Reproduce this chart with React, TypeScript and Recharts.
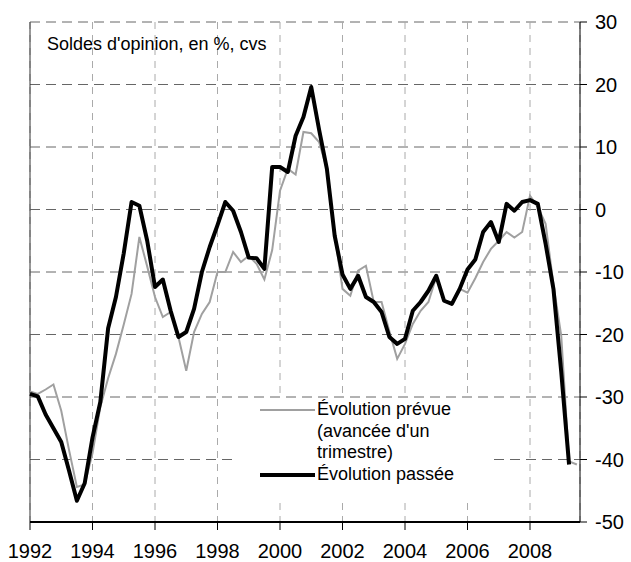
import { LineChart, Line, XAxis, YAxis, CartesianGrid, ReferenceLine } from 'recharts';

// quarterly observations, 1992 Q1 .. 2009 Q3
const quarters: number[] = Array.from({ length: 71 }, (_, i) => 1992 + i / 4);

const evolutionPrevue: number[] = [
  -29.1, -29.5, -28.8, -28.0, -32.2, -38.5, -44.4, -44.0,
  -39.0, -31.6, -27.0, -23.1, -18.4, -13.5, -4.4, -9.1,
  -14.0, -17.2, -16.4, -20.4, -25.8, -19.6, -16.7, -14.8,
  -10.0, -10.0, -6.8, -8.4, -7.4, -8.7, -11.2, -6.5,
  3.0, 6.5, 5.6, 12.4, 12.2, 10.8, 6.5, -4.0,
  -12.7, -13.8, -9.8, -9.0, -14.8, -14.8, -19.5, -23.9,
  -21.5, -18.3, -16.2, -14.8, -10.8, -14.6, -15.0, -12.7,
  -13.3, -11.0, -8.4, -6.3, -5.0, -3.6, -4.5, -3.6,
  2.2, 0.4, -2.3, -12.0, -20.2, -40.3, -40.8,
];

const evolutionPassee: number[] = [
  -29.5, -29.9, -32.8, -35.0, -37.2, -41.8, -46.6, -43.8,
  -36.5, -30.8, -19.0, -14.0, -7.0, 1.2, 0.6, -5.0,
  -12.4, -11.2, -16.2, -20.4, -19.6, -15.9, -10.0, -6.0,
  -2.5, 1.2, -0.2, -3.6, -7.7, -7.8, -9.5, 6.8,
  6.8, 6.0, 11.8, 14.8, 19.6, 12.8, 6.5, -4.2,
  -10.4, -12.7, -10.6, -14.0, -14.8, -16.4, -20.4, -21.5,
  -20.7, -16.2, -14.8, -13.0, -10.6, -14.6, -15.1, -12.7,
  -9.6, -8.0, -3.6, -2.0, -5.2, 0.9, -0.2, 1.2,
  1.5, 0.9, -5.5, -12.7, -26.0, -40.8,
];

const yearTicks = [1992, 1994, 1996, 1998, 2000, 2002, 2004, 2006, 2008];
const valueTicks = [-50, -40, -30, -20, -10, 0, 10, 20, 30];

const data = quarters.map((t, i) => ({
  t,
  prevue: evolutionPrevue[i],
  passee: i < evolutionPassee.length ? evolutionPassee[i] : null,
}));

const font = "'Liberation Sans', Arial, sans-serif";

export default function App() {
  return (
    <div style={{ position: 'absolute', left: 0, top: 0, width: 631, height: 562, background: '#fff', fontFamily: font }}>
      <LineChart width={631} height={562} data={data} margin={{ top: 22, right: 0, bottom: 0, left: 30 }}>
        <CartesianGrid horizontal vertical={false} stroke="#666" strokeDasharray="10 6" />
        <CartesianGrid horizontal={false} vertical stroke="#aaa" strokeDasharray="7 6" />
        <XAxis
          dataKey="t"
          type="number"
          domain={[1992, 2009.6]}
          ticks={yearTicks}
          interval={0}
          tick={{ fontSize: 20, fill: '#000', fontFamily: font }}
          tickSize={8}
          tickMargin={14}
          axisLine={{ stroke: '#000', strokeWidth: 2 }}
          tickLine={{ stroke: '#000' }}
          height={40}
        />
        <YAxis
          orientation="right"
          type="number"
          domain={[-50, 30]}
          ticks={valueTicks}
          interval={0}
          tick={{ fontSize: 20, fill: '#000', fontFamily: font, textAnchor: 'start' }}
          tickSize={7}
          tickMargin={8}
          axisLine={{ stroke: '#000' }}
          tickLine={{ stroke: '#000' }}
          width={51}
        />
        <ReferenceLine x={1992} stroke="#333" />
        <Line
          dataKey="prevue"
          type="linear"
          stroke="#a0a0a0"
          strokeWidth={2}
          dot={false}
          isAnimationActive={false}
        />
        <Line
          dataKey="passee"
          type="linear"
          stroke="#000"
          strokeWidth={4}
          strokeLinejoin="round"
          dot={false}
          isAnimationActive={false}
        />
      </LineChart>
      <div style={{ position: 'absolute', left: 47, top: 34, fontSize: 18, color: '#000', whiteSpace: 'nowrap' }}>
        Soldes d'opinion, en %, cvs
      </div>
      <div style={{ position: 'absolute', left: 233, top: 399, width: 257, height: 101, background: '#fff' }}>
        <div style={{ position: 'absolute', left: 27, top: 10, width: 55, height: 2, background: '#a0a0a0' }} />
        <div style={{ position: 'absolute', left: 27, top: 74, width: 55, height: 4, background: '#000' }} />
        <div style={{ position: 'absolute', left: 84, top: 0, fontSize: 18, lineHeight: '21.7px', color: '#000' }}>
          Évolution prévue<br />(avancée d'un<br />trimestre)<br />Évolution passée
        </div>
      </div>
    </div>
  );
}
